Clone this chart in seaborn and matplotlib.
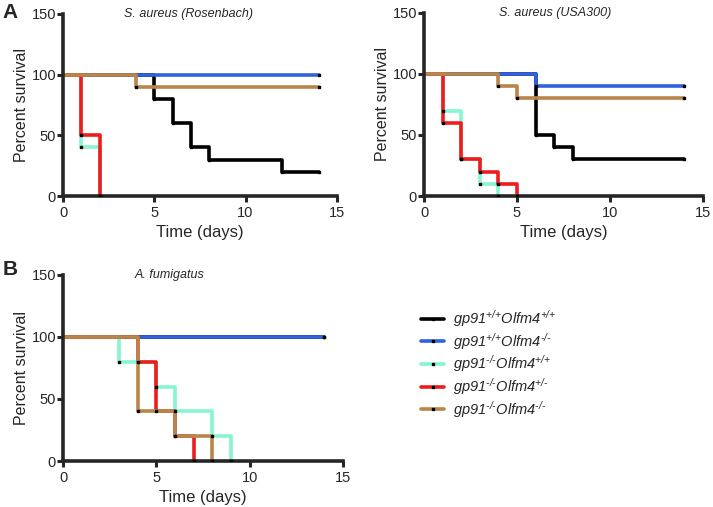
import numpy as np
import pandas as pd
import seaborn as sns
import matplotlib.pyplot as plt
from matplotlib.lines import Line2D

# genotypes and colours
groups = ['gp91+/+Olfm4+/+', 'gp91+/+Olfm4-/-', 'gp91-/-Olfm4+/+', 'gp91-/-Olfm4+/-', 'gp91-/-Olfm4-/-']
hy = '\u2010'
labels = [r'$gp91^{{+}/{+}}Olfm4^{{+}/{+}}$',
          r'$gp91^{{+}/{+}}Olfm4^{H/H}$'.replace('H', hy),
          r'$gp91^{H/H}Olfm4^{{+}/{+}}$'.replace('H', hy),
          r'$gp91^{H/H}Olfm4^{{+}/H}$'.replace('H', hy),
          r'$gp91^{H/H}Olfm4^{H/H}$'.replace('H', hy)]
colors = ['#000000', '#2f62dc', '#86f5d2', '#ee1c1c', '#b8864a']

# S. aureus (Rosenbach): step times and survival
ros_t = [[0, 5, 6, 7, 8, 12, 14], [0, 14], [0, 1, 2], [0, 1, 2], [0, 4, 14]]
ros_s = [[100, 80, 60, 40, 30, 20, 20], [100, 100], [100, 40, 0], [100, 50, 0], [100, 90, 90]]

# S. aureus (USA300)
usa_t = [[0, 6, 7, 8, 14], [0, 6, 14], [0, 1, 2, 3, 4], [0, 1, 2, 3, 4, 5], [0, 4, 5, 14]]
usa_s = [[100, 50, 40, 30, 30], [100, 90, 90], [100, 70, 30, 10, 0], [100, 60, 30, 20, 10, 0], [100, 90, 80, 80]]

# A. fumigatus
fum_t = [[0, 14], [0, 14], [0, 3, 5, 6, 8, 9], [0, 4, 5, 6, 7], [0, 4, 6, 8]]
fum_s = [[100, 100], [100, 100], [100, 80, 60, 40, 20, 0], [100, 80, 40, 20, 0], [100, 40, 20, 0]]

sns.set_style('ticks')
plt.rcParams['font.family'] = ['Liberation Sans', 'DejaVu Sans']
plt.rcParams['mathtext.fontset'] = 'custom'
plt.rcParams['mathtext.rm'] = 'Liberation Sans:italic'
plt.rcParams['mathtext.it'] = 'Liberation Sans:italic'

fig = plt.figure(figsize=(7.13, 5.07), dpi=100)
ax1 = fig.add_axes([0.0884, 0.6134, 0.384, 0.359])
ax2 = fig.add_axes([0.5947, 0.6134, 0.391, 0.361])
ax3 = fig.add_axes([0.0884, 0.0907, 0.3927, 0.367])


def km_panel(ax, times, surv, title, tx):
    for t, s, c in zip(times, surv, colors):
        df = pd.DataFrame({'t': t, 's': s})
        sns.lineplot(data=df, x='t', y='s', color=c, lw=2.6, drawstyle='steps-post',
                     estimator=None, sort=False, ax=ax)
    # small black tick marks at events / censoring
    for t, s in zip(times, surv):
        ax.plot(t[1:], s[1:], ls='none', marker='s', ms=1.5, color='black', zorder=5)
    ax.set_xlim(0, 15)
    ax.set_ylim(0, 150)
    ax.set_xticks([0, 5, 10, 15])
    ax.set_yticks([0, 50, 100, 150])
    ax.set_xlabel('Time (days)', fontsize=12, labelpad=4)
    ax.set_ylabel('Percent survival', fontsize=11.5, labelpad=2)
    ax.tick_params(labelsize=10.5, width=2.2, length=4, pad=1)
    ax.tick_params(axis='x', pad=3)
    for sp in ['left', 'bottom']:
        ax.spines[sp].set_linewidth(2.6)
    sns.despine(ax=ax)
    ax.text(tx, 1.0, title, transform=ax.transAxes, ha='center', va='center',
            fontsize=9, style='italic')


km_panel(ax1, ros_t, ros_s, 'S. aureus (Rosenbach)', 0.46)
km_panel(ax2, usa_t, usa_s, 'S. aureus (USA300)', 0.47)
km_panel(ax3, fum_t, fum_s, 'A. fumigatus', 0.38)

fig.text(0.004, 0.975, 'A', fontsize=15, fontweight='bold', va='center')
fig.text(0.004, 0.468, 'B', fontsize=15, fontweight='bold', va='center')

handles = [Line2D([], [], color=c, lw=2.6, marker='s', ms=1.5, mfc='black', mec='black')
           for c in colors]
fig.legend(handles, labels, loc='upper left', bbox_to_anchor=(0.572, 0.418), frameon=False,
           fontsize=10.5, handlelength=1.6, handletextpad=0.6, labelspacing=0.12)

fig.savefig('out.png', dpi=100)
